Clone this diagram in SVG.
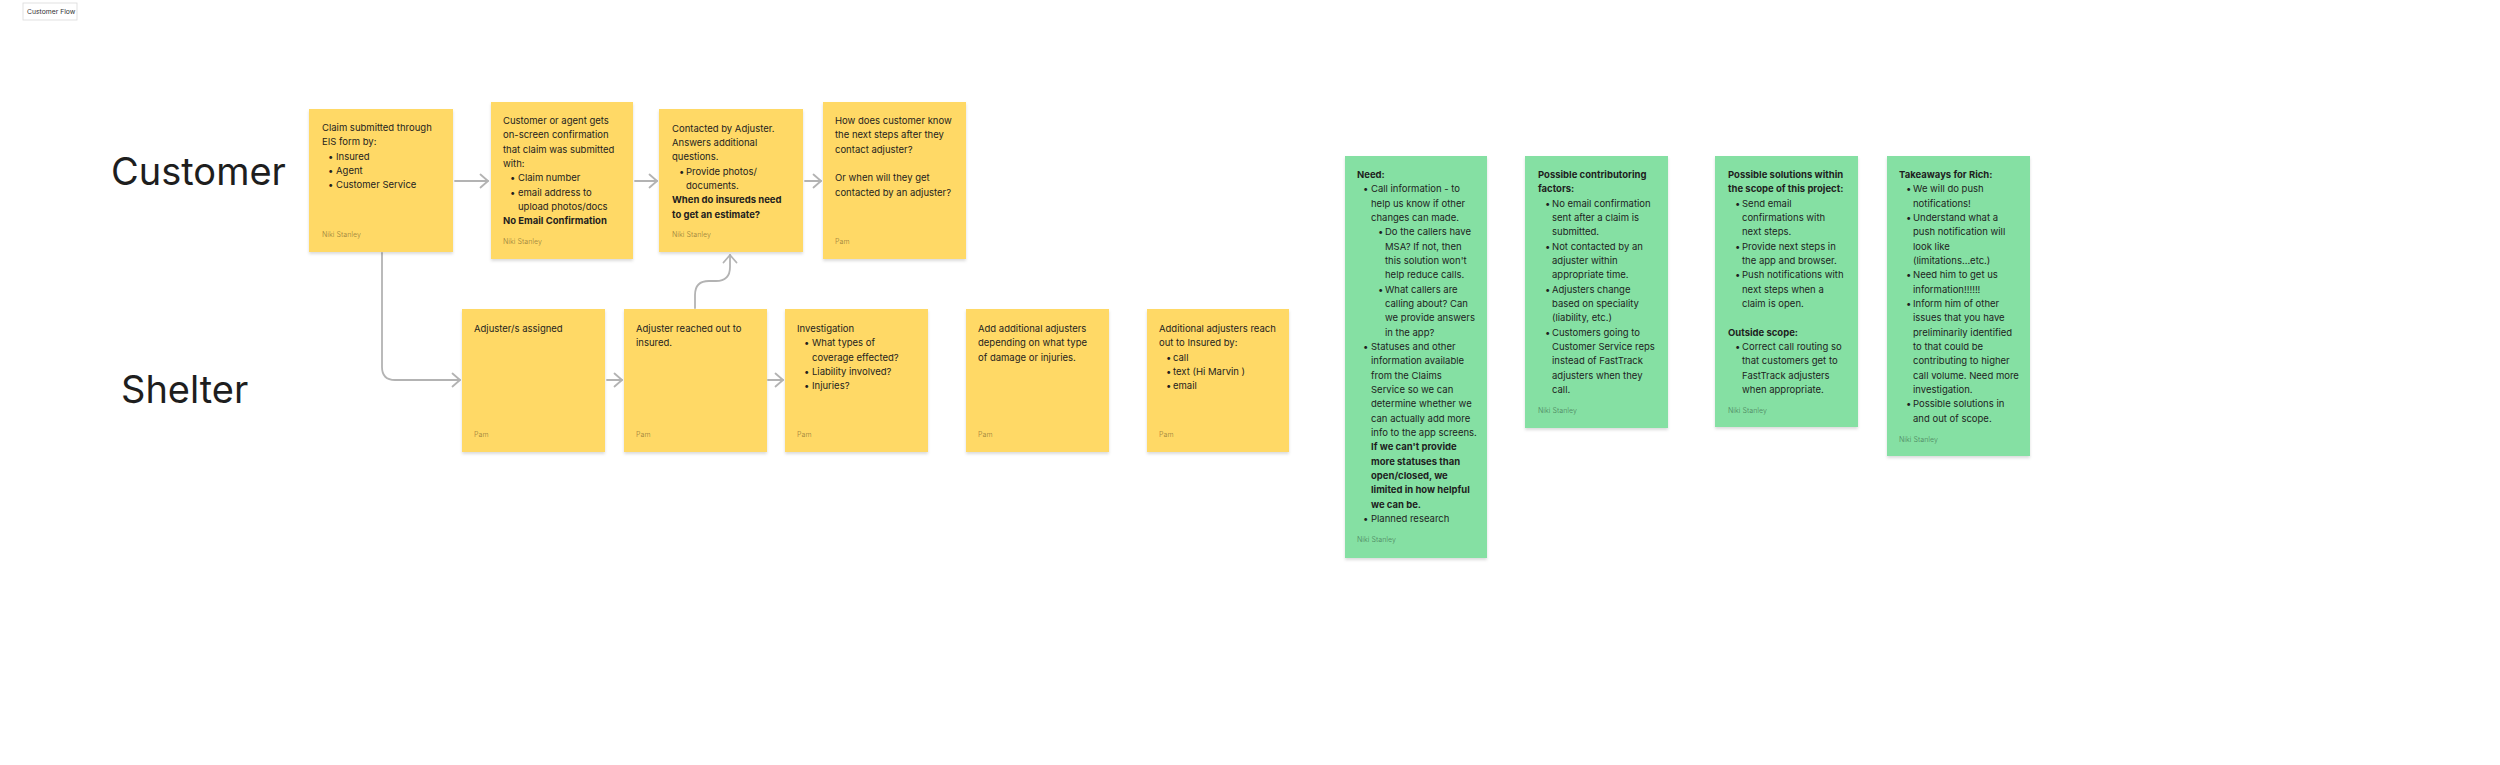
<svg xmlns="http://www.w3.org/2000/svg" width="2500" height="765" viewBox="0 0 2500 765">
<defs>
<style>
.t{font-family:Inter,"Liberation Sans",sans-serif;font-size:9.5px;fill:#1e1e1e}
.bd{font-weight:700}
.au{font-family:Inter,"Liberation Sans",sans-serif;font-size:7px;fill:#000;fill-opacity:.38}
.lane{font-family:Inter,"Liberation Sans",sans-serif;font-size:38px;fill:#1e1e1e}
.y{fill:#FFD966;filter:url(#sh)}
.g{fill:#85E0A3;filter:url(#sh)}
.c{fill:none;stroke:#B3B3B3;stroke-width:1.8;stroke-linecap:round;stroke-linejoin:round;marker-end:url(#arr)}
</style>
<filter id="sh" x="-10%" y="-10%" width="120%" height="125%">
<feDropShadow dx="0" dy="2" stdDeviation="1.8" flood-color="#000" flood-opacity="0.14"/>
</filter>
<marker id="arr" markerUnits="userSpaceOnUse" markerWidth="12" markerHeight="16" refX="9" refY="8" orient="auto">
<path d="M1.5,1.5 L9,8 L1.5,14.5" fill="none" stroke="#B3B3B3" stroke-width="1.8" stroke-linecap="round" stroke-linejoin="round"/>
</marker>
</defs>
<rect width="2500" height="765" fill="#fff"/>

<g id="frame-label">
<rect x="23" y="3" width="54" height="17" fill="#fff" stroke="#d9d9d9" stroke-width="0.8"/>
<text x="27" y="14" style="font-family:Inter,'Liberation Sans',sans-serif;font-size:6.8px;fill:#333">Customer Flow</text>
</g>

<g id="lane-customer"><text class="lane" x="111" y="185">Customer</text></g>
<g id="lane-shelter"><text class="lane" x="121" y="403">Shelter</text></g>

<g id="connectors">
<path class="c" d="M455,181 H488"/>
<path class="c" d="M635,181 H657"/>
<path class="c" d="M805,181 H821"/>
<path class="c" d="M382,253 V367 Q382,380 395,380 H460"/>
<path class="c" d="M607,380 H622"/>
<path class="c" d="M695,308 V295 Q695,281 709,281 H716 Q730,281 730,267 V255"/>
<path class="c" d="M768,380 H783"/>
</g>

<g id="n1">
<rect class="y" x="309" y="109" width="144" height="143"/>
<text class="t"><tspan x="322" y="131">Claim submitted through</tspan><tspan x="322" y="145.3">EIS form by:</tspan><tspan x="328" y="159.7">•</tspan><tspan x="336" y="159.7">Insured</tspan><tspan x="328" y="174">•</tspan><tspan x="336" y="174">Agent</tspan><tspan x="328" y="188.3">•</tspan><tspan x="336" y="188.3">Customer Service</tspan></text>
<text class="au" x="322" y="237">Niki Stanley</text>
</g>

<g id="n2">
<rect class="y" x="491" y="102" width="142" height="157"/>
<text class="t"><tspan x="503" y="124">Customer or agent gets</tspan><tspan x="503" y="138.3">on-screen confirmation</tspan><tspan x="503" y="152.7">that claim was submitted</tspan><tspan x="503" y="167">with:</tspan><tspan x="510" y="181.3">•</tspan><tspan x="518" y="181.3">Claim number</tspan><tspan x="510" y="195.7">•</tspan><tspan x="518" y="195.7">email address to</tspan><tspan x="518" y="210">upload photos/docs</tspan><tspan x="503" y="224.3" class="bd">No Email Confirmation</tspan></text>
<text class="au" x="503" y="244">Niki Stanley</text>
</g>

<g id="n3">
<rect class="y" x="659" y="109" width="144" height="143"/>
<text class="t"><tspan x="672" y="131.7">Contacted by Adjuster.</tspan><tspan x="672" y="146">Answers additional</tspan><tspan x="672" y="160.3">questions.</tspan><tspan x="679" y="174.7">•</tspan><tspan x="686" y="174.7">Provide photos/</tspan><tspan x="686" y="189">documents.</tspan><tspan x="672" y="203.3" class="bd">When do insureds need</tspan><tspan x="672" y="217.7" class="bd">to get an estimate?</tspan></text>
<text class="au" x="672" y="237">Niki Stanley</text>
</g>

<g id="n4">
<rect class="y" x="823" y="102" width="143" height="157"/>
<text class="t"><tspan x="835" y="124">How does customer know</tspan><tspan x="835" y="138.3">the next steps after they</tspan><tspan x="835" y="152.7">contact adjuster?</tspan><tspan x="835" y="181.3">Or when will they get</tspan><tspan x="835" y="195.7">contacted by an adjuster?</tspan></text>
<text class="au" x="835" y="244">Pam</text>
</g>

<g id="n5">
<rect class="y" x="462" y="309" width="143" height="143"/>
<text class="t" x="474" y="332">Adjuster/s assigned</text>
<text class="au" x="474" y="437">Pam</text>
</g>

<g id="n6">
<rect class="y" x="624" y="309" width="143" height="143"/>
<text class="t"><tspan x="636" y="332">Adjuster reached out to</tspan><tspan x="636" y="346.3">insured.</tspan></text>
<text class="au" x="636" y="437">Pam</text>
</g>

<g id="n7">
<rect class="y" x="785" y="309" width="143" height="143"/>
<text class="t"><tspan x="797" y="332">Investigation</tspan><tspan x="804" y="346.3">•</tspan><tspan x="812" y="346.3">What types of</tspan><tspan x="812" y="360.7">coverage effected?</tspan><tspan x="804" y="375">•</tspan><tspan x="812" y="375">Liability involved?</tspan><tspan x="804" y="389.3">•</tspan><tspan x="812" y="389.3">Injuries?</tspan></text>
<text class="au" x="797" y="437">Pam</text>
</g>

<g id="n8">
<rect class="y" x="966" y="309" width="143" height="143"/>
<text class="t"><tspan x="978" y="332">Add additional adjusters</tspan><tspan x="978" y="346.3">depending on what type</tspan><tspan x="978" y="360.7">of damage or injuries.</tspan></text>
<text class="au" x="978" y="437">Pam</text>
</g>

<g id="n9">
<rect class="y" x="1147" y="309" width="142" height="143"/>
<text class="t"><tspan x="1159" y="332">Additional adjusters reach</tspan><tspan x="1159" y="346.3">out to Insured by:</tspan><tspan x="1166" y="360.7">•</tspan><tspan x="1173" y="360.7">call</tspan><tspan x="1166" y="375">•</tspan><tspan x="1173" y="375">text (Hi Marvin )</tspan><tspan x="1166" y="389.3">•</tspan><tspan x="1173" y="389.3">email</tspan></text>
<text class="au" x="1159" y="437">Pam</text>
</g>

<g id="g1">
<rect class="g" x="1345" y="156" width="142" height="402"/>
<text class="t"><tspan x="1357" y="178" class="bd">Need:</tspan><tspan x="1363" y="192.3">•</tspan><tspan x="1371" y="192.3">Call information - to</tspan><tspan x="1371" y="206.7">help us know if other</tspan><tspan x="1371" y="221">changes can made.</tspan><tspan x="1378" y="235.3">•</tspan><tspan x="1385" y="235.3">Do the callers have</tspan><tspan x="1385" y="249.7">MSA? If not, then</tspan><tspan x="1385" y="264">this solution won't</tspan><tspan x="1385" y="278.3">help reduce calls.</tspan><tspan x="1378" y="292.7">•</tspan><tspan x="1385" y="292.7">What callers are</tspan><tspan x="1385" y="307">calling about? Can</tspan><tspan x="1385" y="321.3">we provide answers</tspan><tspan x="1385" y="335.7">in the app?</tspan><tspan x="1363" y="350">•</tspan><tspan x="1371" y="350">Statuses and other</tspan><tspan x="1371" y="364.3">information available</tspan><tspan x="1371" y="378.7">from the Claims</tspan><tspan x="1371" y="393">Service so we can</tspan><tspan x="1371" y="407.3">determine whether we</tspan><tspan x="1371" y="421.7">can actually add more</tspan><tspan x="1371" y="436">info to the app screens.</tspan><tspan x="1371" y="450.3" class="bd">If we can't provide</tspan><tspan x="1371" y="464.7" class="bd">more statuses than</tspan><tspan x="1371" y="479" class="bd">open/closed, we</tspan><tspan x="1371" y="493.3" class="bd">limited in how helpful</tspan><tspan x="1371" y="507.7" class="bd">we can be.</tspan><tspan x="1363" y="522">•</tspan><tspan x="1371" y="522">Planned research</tspan></text>
<text class="au" x="1357" y="542">Niki Stanley</text>
</g>

<g id="g2">
<rect class="g" x="1525" y="156" width="143" height="272"/>
<text class="t"><tspan x="1538" y="178" class="bd">Possible contributoring</tspan><tspan x="1538" y="192.3" class="bd">factors:</tspan><tspan x="1545" y="206.7">•</tspan><tspan x="1552" y="206.7">No email confirmation</tspan><tspan x="1552" y="221">sent after a claim is</tspan><tspan x="1552" y="235.3">submitted.</tspan><tspan x="1545" y="249.7">•</tspan><tspan x="1552" y="249.7">Not contacted by an</tspan><tspan x="1552" y="264">adjuster within</tspan><tspan x="1552" y="278.3">appropriate time.</tspan><tspan x="1545" y="292.7">•</tspan><tspan x="1552" y="292.7">Adjusters change</tspan><tspan x="1552" y="307">based on speciality</tspan><tspan x="1552" y="321.3">(liability, etc.)</tspan><tspan x="1545" y="335.7">•</tspan><tspan x="1552" y="335.7">Customers going to</tspan><tspan x="1552" y="350">Customer Service reps</tspan><tspan x="1552" y="364.3">instead of FastTrack</tspan><tspan x="1552" y="378.7">adjusters when they</tspan><tspan x="1552" y="393">call.</tspan></text>
<text class="au" x="1538" y="413">Niki Stanley</text>
</g>

<g id="g3">
<rect class="g" x="1715" y="156" width="143" height="271"/>
<text class="t"><tspan x="1728" y="178" class="bd">Possible solutions within</tspan><tspan x="1728" y="192.3" class="bd">the scope of this project:</tspan><tspan x="1735" y="206.7">•</tspan><tspan x="1742" y="206.7">Send email</tspan><tspan x="1742" y="221">confirmations with</tspan><tspan x="1742" y="235.3">next steps.</tspan><tspan x="1735" y="249.7">•</tspan><tspan x="1742" y="249.7">Provide next steps in</tspan><tspan x="1742" y="264">the app and browser.</tspan><tspan x="1735" y="278.3">•</tspan><tspan x="1742" y="278.3">Push notifications with</tspan><tspan x="1742" y="292.7">next steps when a</tspan><tspan x="1742" y="307">claim is open.</tspan><tspan x="1728" y="335.7" class="bd">Outside scope:</tspan><tspan x="1735" y="350">•</tspan><tspan x="1742" y="350">Correct call routing so</tspan><tspan x="1742" y="364.3">that customers get to</tspan><tspan x="1742" y="378.7">FastTrack adjusters</tspan><tspan x="1742" y="393">when appropriate.</tspan></text>
<text class="au" x="1728" y="413">Niki Stanley</text>
</g>

<g id="g4">
<rect class="g" x="1887" y="156" width="143" height="300"/>
<text class="t"><tspan x="1899" y="178" class="bd">Takeaways for Rich:</tspan><tspan x="1906" y="192.3">•</tspan><tspan x="1913" y="192.3">We will do push</tspan><tspan x="1913" y="206.7">notifications!</tspan><tspan x="1906" y="221">•</tspan><tspan x="1913" y="221">Understand what a</tspan><tspan x="1913" y="235.3">push notification will</tspan><tspan x="1913" y="249.7">look like</tspan><tspan x="1913" y="264">(limitations...etc.)</tspan><tspan x="1906" y="278.3">•</tspan><tspan x="1913" y="278.3">Need him to get us</tspan><tspan x="1913" y="292.7">information!!!!!!</tspan><tspan x="1906" y="307">•</tspan><tspan x="1913" y="307">Inform him of other</tspan><tspan x="1913" y="321.3">issues that you have</tspan><tspan x="1913" y="335.7">preliminarily identified</tspan><tspan x="1913" y="350">to that could be</tspan><tspan x="1913" y="364.3">contributing to higher</tspan><tspan x="1913" y="378.7">call volume. Need more</tspan><tspan x="1913" y="393">investigation.</tspan><tspan x="1906" y="407.3">•</tspan><tspan x="1913" y="407.3">Possible solutions in</tspan><tspan x="1913" y="421.7">and out of scope.</tspan></text>
<text class="au" x="1899" y="442">Niki Stanley</text>
</g>
</svg>
